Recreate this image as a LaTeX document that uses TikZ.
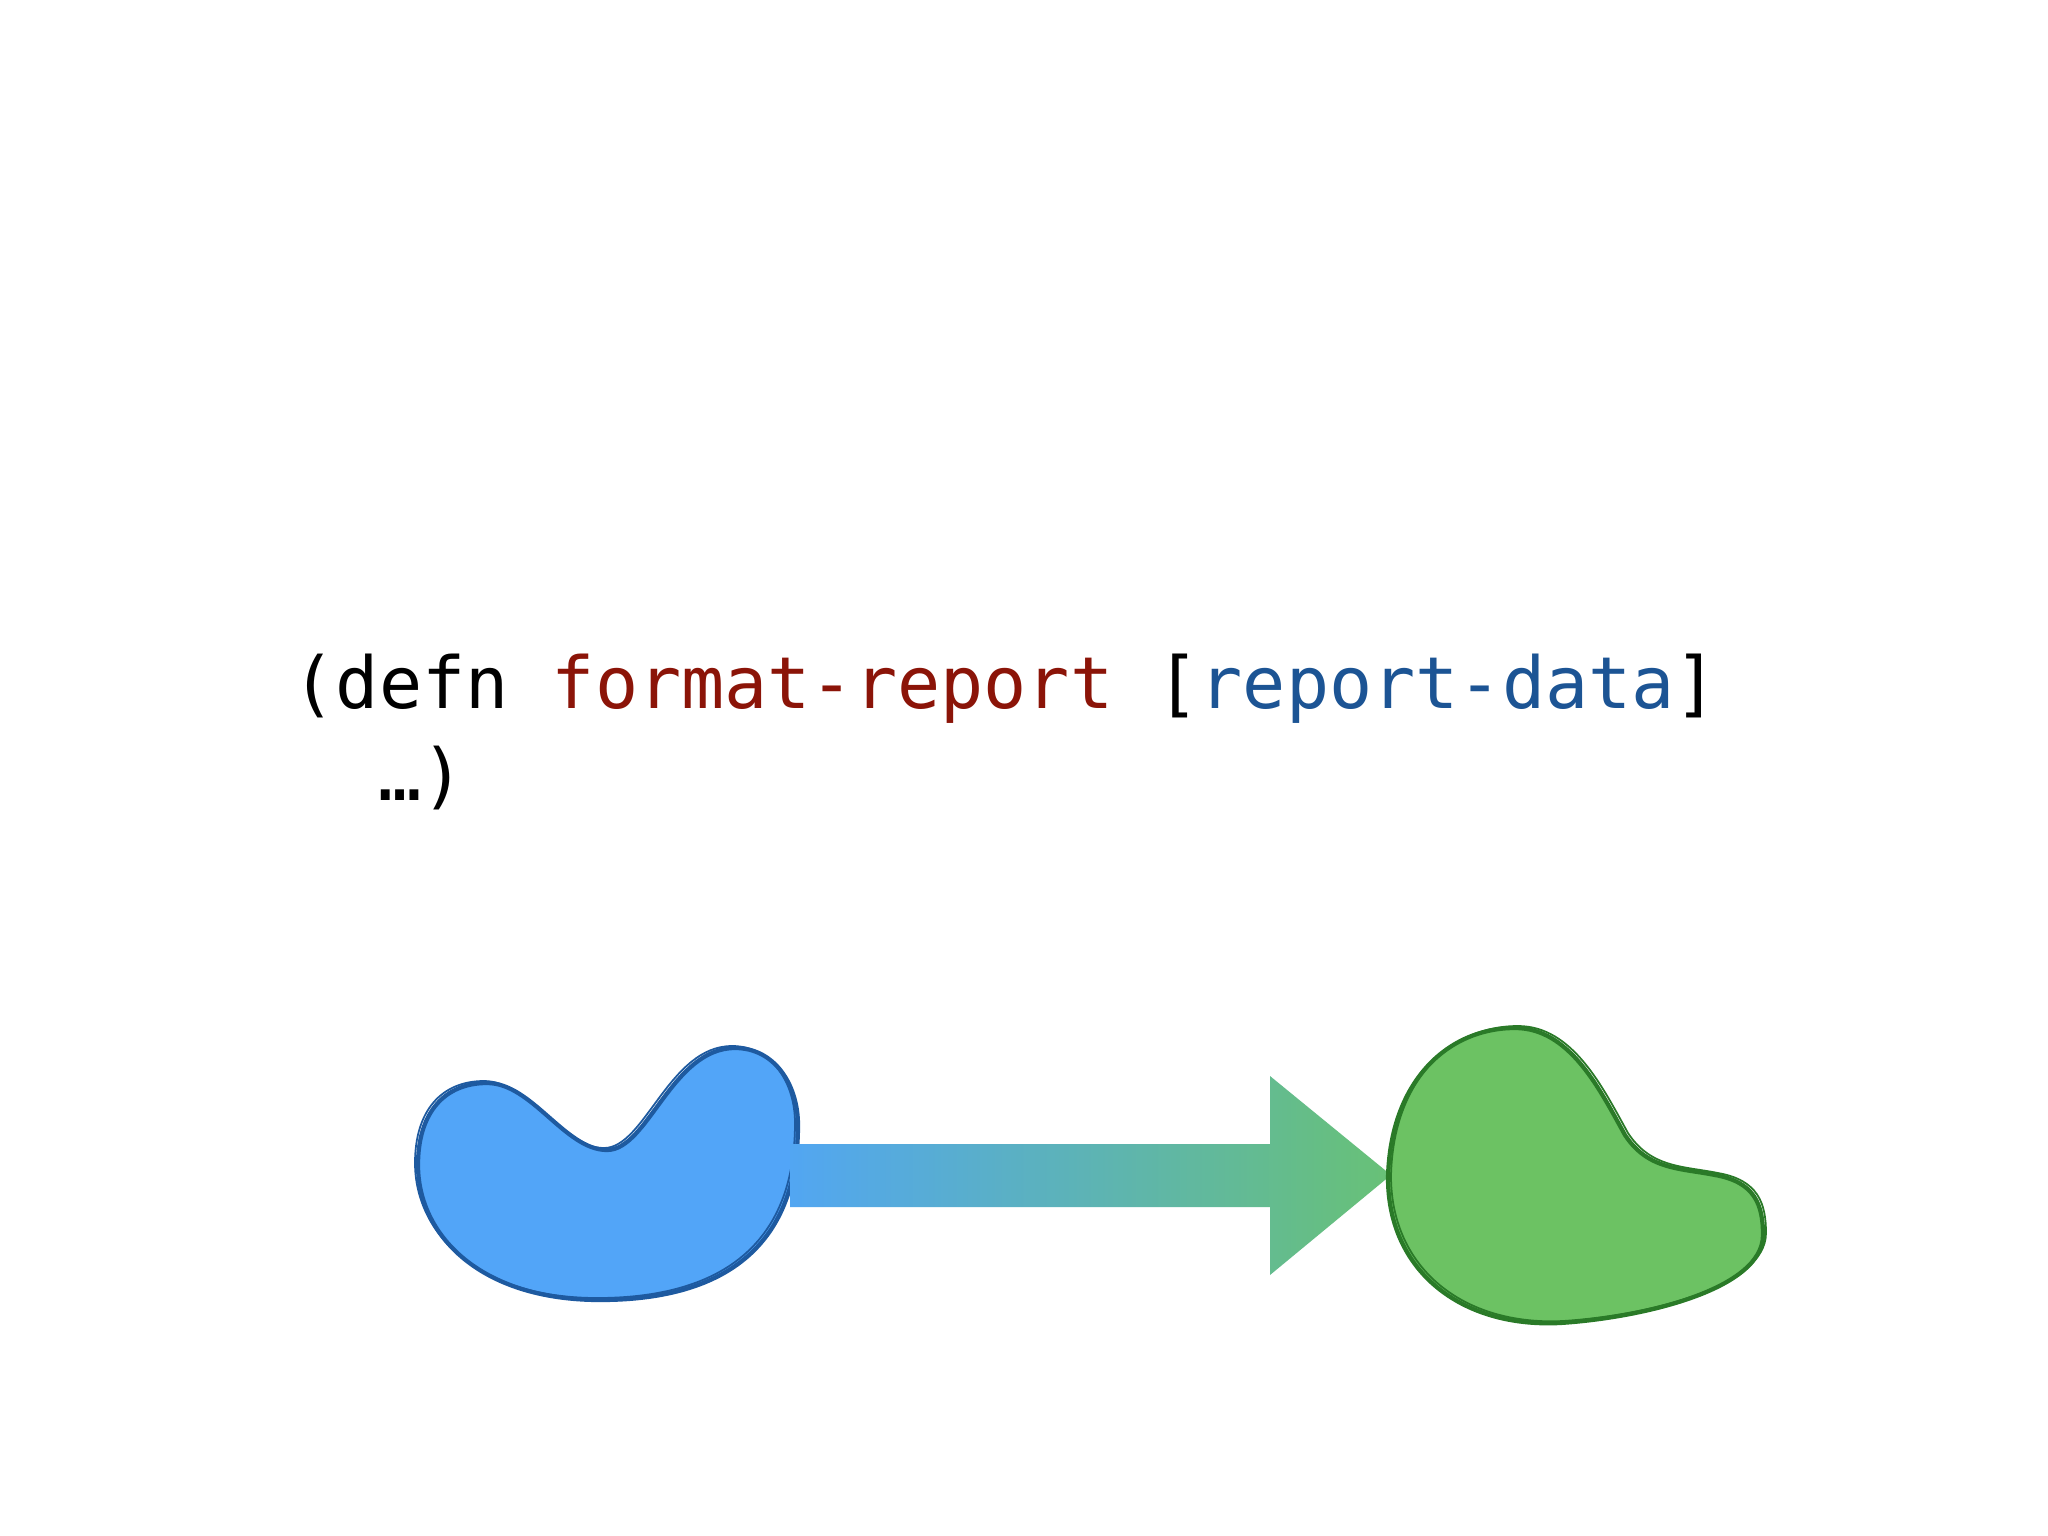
\documentclass[tikz,border=0pt]{standalone}
\usepackage{fontspec}
\newfontfamily\codefont{DejaVu Sans Mono}
\definecolor{fnred}{RGB}{139,20,8}
\definecolor{argblue}{RGB}{28,84,148}
\definecolor{blobblue}{RGB}{82,165,248}
\definecolor{lineblue}{RGB}{30,90,160}
\definecolor{blobgreen}{RGB}{108,194,99}
\definecolor{linegreen}{RGB}{42,122,40}
\definecolor{arrowleft}{RGB}{82,166,242}
\definecolor{arrowright}{RGB}{104,193,118}
\begin{document}
\begin{tikzpicture}[x=0.01cm,y=-0.01cm,
  codetext/.style={inner sep=0pt,anchor=base west,font=\codefont\fontsize{20.4}{26}\selectfont},
  blobline/.style={line width=1.2pt,line join=round},
  sketchline/.style={line width=0.5pt,line join=round}]
\useasboundingbox (0,0) rectangle (2048,1536);
\fill[white] (0,0) rectangle (2048,1536);

\node[codetext] (line1) at (292,708) {(defn \textcolor{fnred}{format-report} [\textcolor{argblue}{report-data}]};
\node[codetext] (line2) at (378,800) {…)};

% source blob
\def\blueblob{(418,1165) .. controls (418,1112) and (445,1083) .. (487,1083)
  .. controls (532,1083) and (565,1150) .. (607,1150)
  .. controls (648,1150) and (672,1048) .. (735,1048)
  .. controls (775,1048) and (798,1085) .. (798,1125)
  .. controls (798,1250) and (720,1300) .. (600,1300)
  .. controls (480,1300) and (418,1235) .. cycle}
\draw[blobline,draw=lineblue,fill=blobblue] \blueblob;
\draw[sketchline,draw=lineblue,xshift=-0.03cm,yshift=0.02cm] \blueblob;
\coordinate (src) at (790,1175);

% arrow
\coordinate (tip) at (1391,1175);
\shade[left color=arrowleft,right color=arrowright]
  (src) ++(0,-31) -- (1270,1144) -- (1270,1076) -- (tip) -- (1270,1275) -- (1270,1207) -- ++(-480,0) -- cycle;

% target blob
\def\greenblob{(1388,1178) .. controls (1390,1082) and (1447,1028) .. (1515,1028)
  .. controls (1570,1028) and (1600,1090) .. (1625,1135)
  .. controls (1648,1170) and (1680,1168) .. (1715,1175)
  .. controls (1755,1182) and (1763,1205) .. (1763,1235)
  .. controls (1763,1290) and (1640,1318) .. (1560,1323)
  .. controls (1460,1328) and (1388,1270) .. cycle}
\draw[blobline,draw=linegreen,fill=blobgreen] \greenblob;
\draw[sketchline,draw=linegreen,xshift=0.03cm,yshift=0.02cm] \greenblob;
\end{tikzpicture}
\end{document}
